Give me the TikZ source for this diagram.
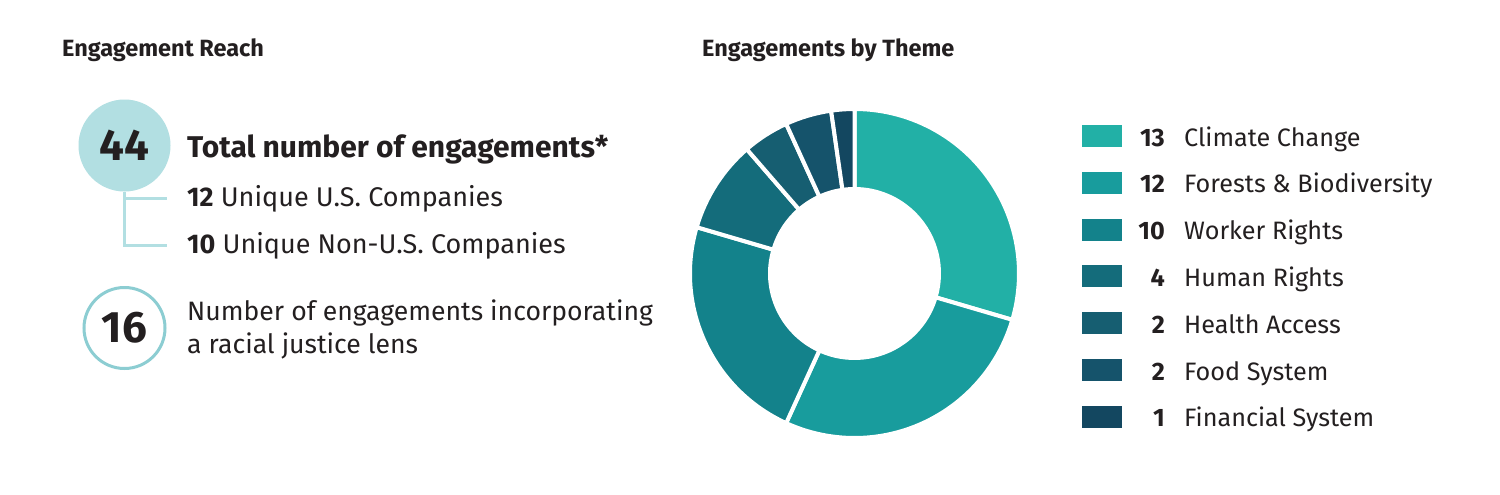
\documentclass[tikz,border=0pt]{standalone}
\usepackage{fontspec}
\setmainfont{Fira Sans}
\usetikzlibrary{calc}
\definecolor{txt}{HTML}{231F20}
\definecolor{pale}{HTML}{B2DFE2}
\definecolor{ring}{HTML}{8CCDD2}
\definecolor{cA}{HTML}{22B0A6}
\definecolor{cB}{HTML}{189C9D}
\definecolor{cC}{HTML}{13828B}
\definecolor{cD}{HTML}{146C7B}
\definecolor{cE}{HTML}{165E71}
\definecolor{cF}{HTML}{15536B}
\definecolor{cG}{HTML}{134760}
\tikzset{
  title/.style={anchor=base west, inner sep=0, text=txt, font=\fontsize{23.5}{28}\selectfont\bfseries},
  body/.style={anchor=base west, inner sep=0, text=txt, font=\fontsize{27}{33}\selectfont},
  bodys/.style={anchor=base west, inner sep=0, text=txt, font=\fontsize{26.6}{33}\selectfont},
  big/.style={anchor=base west, inner sep=0, text=txt, font=\fontsize{30}{36}\selectfont\bfseries},
  conn/.style={draw=pale, line width=3},
  swatch/.style={minimum width=40, minimum height=22, inner sep=0, draw=none},
  lnum/.style={anchor=base east, inner sep=0, text=txt, font=\fontsize{25.2}{30}\selectfont\bfseries},
  llab/.style={anchor=base west, inner sep=0, text=txt, font=\fontsize{25.2}{30}\selectfont},
  seg/.style={draw=white, line width=4}
}
\begin{document}
\begin{tikzpicture}[x=1pt,y=-1pt]
\useasboundingbox[fill=white] (0,0) rectangle (1500,495);
% titles
\node[title] (t1) at (62,57) {Engagement Reach};
\node[title] (t2) at (702,57) {Engagements by Theme};
% left panel
\node[circle, fill=pale, minimum size=92, inner sep=0, text=txt, font=\fontsize{44}{44}\selectfont\bfseries] (c44) at (124.5,145.5) {44};
\node[big] (tot) at (187,157) {Total number of engagements*};
\node[body] (us) at (187,206) {\textbf{12} Unique U.S. Companies};
\node[body] (nus) at (187,253) {\textbf{10} Unique Non-U.S. Companies};
\coordinate (b1) at (167,198);
\coordinate (b2) at (167,245);
\draw[conn] (c44.south) |- (b1);
\draw[conn] (c44.south) |- (b2);
\node[circle, draw=ring, line width=3, minimum size=81, inner sep=0, text=txt, font=\fontsize{44}{44}\selectfont\bfseries] (c16) at (124.5,328) {16};
\node[bodys] (rj1) at (187,320) {Number of engagements incorporating};
\node[bodys] (rj2) at (187,353) {a racial justice lens};
% donut
\coordinate (ctr) at (854.5,273.5);
\begin{scope}[shift={(ctr)}]
\foreach \a/\b/\c in {-90/16.36/cA, 16.36/114.55/cB, 114.55/196.36/cC, 196.36/229.09/cD, 229.09/245.45/cE, 245.45/261.82/cF, 261.82/270/cG}
  \path[seg, fill=\c] (\a:164.5) arc[start angle=\a, end angle=\b, radius=164.5] -- (\b:84.5) arc[start angle=\b, end angle=\a, radius=84.5] -- cycle;
\end{scope}
% legend
\foreach \i/\c/\n/\t in {0/cA/13/Climate Change, 1/cB/12/Forests \& Biodiversity, 2/cC/10/Worker Rights, 3/cD/4/Human Rights, 4/cE/2/Health Access, 5/cF/2/Food System, 6/cG/1/Financial System}{
  \node[swatch, fill=\c] (sw\i) at (1102, 136+46.83*\i) {};
  \node[lnum] (n\i) at (1165, 146+46.83*\i) {\n};
  \node[llab] (l\i) at (1184, 146+46.83*\i) {\t};
}
\end{tikzpicture}
\end{document}
